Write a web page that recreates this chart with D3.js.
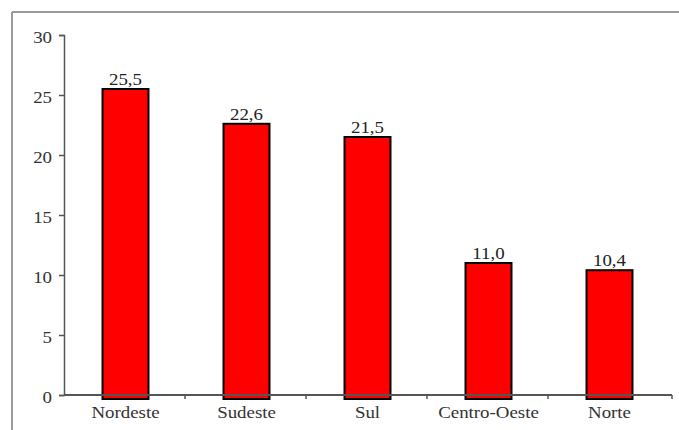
<!DOCTYPE html>
<html><head><meta charset="utf-8">
<script src="https://cdn.jsdelivr.net/npm/d3@7"></script>
<style>
html,body{margin:0;padding:0;background:#fff;}
</style></head>
<body>
<svg id="chart" width="679" height="430"></svg>
<script>
const categories = ["Nordeste","Sudeste","Sul","Centro-Oeste","Norte"];
const values = [25.5, 22.6, 21.5, 11.0, 10.4];
const yTicks = [0,5,10,15,20,25,30];

const FONT = "'Liberation Serif', 'Times New Roman', serif";
const SX = 1.18; // horizontal stretch of the original scan
const svg = d3.select("#chart");
const W = 679, H = 430;
const m = {left:64, top:35};
const plotRight = 669, plotBottom = 395;

// frame
svg.append("line").attr("x1",12).attr("y1",12).attr("x2",W).attr("y2",12)
  .attr("stroke","#9a9a9a").attr("stroke-width",2);
svg.append("line").attr("x1",12).attr("y1",12).attr("x2",12).attr("y2",H)
  .attr("stroke","#9a9a9a").attr("stroke-width",2);

const x = d3.scaleBand().domain(categories).range([m.left, plotRight]).paddingInner(0.62).paddingOuter(0.31);
const y = d3.scaleLinear().domain([0,30]).range([plotBottom, m.top]);

const fmt = v => v.toFixed(1).replace(".", ",");

// bars
svg.selectAll("rect.bar").data(categories).join("rect")
  .attr("class","bar")
  .attr("x", d => x(d) + 1)
  .attr("y", (d,i) => y(values[i]))
  .attr("width", x.bandwidth())
  .attr("height", (d,i) => y(0) - y(values[i]) + 4)
  .attr("fill","#ff0000").attr("stroke","#000").attr("stroke-width",2);

// value labels
svg.selectAll("g.val").data(categories).join("g")
  .attr("class","val")
  .attr("transform", (d,i) => `translate(${x(d) + 1 + x.bandwidth()/2},${y(values[i]) - 4})`)
  .append("text")
  .attr("transform",`scale(${SX},1)`)
  .attr("text-anchor","middle")
  .style("font-family",FONT).style("font-size","16px").attr("fill","#222")
  .text((d,i) => fmt(values[i]));

// y axis
const yAxis = svg.append("g").attr("transform",`translate(${m.left},0)`)
  .call(d3.axisLeft(y).tickValues(yTicks).tickSize(5).tickPadding(7).tickFormat(d3.format("d")));
yAxis.select(".domain").attr("stroke","#555").attr("stroke-width",1.5);
yAxis.selectAll(".tick line").attr("stroke","#555").attr("stroke-width",1.5);
yAxis.selectAll("text")
  .attr("x", -12 / SX).attr("dy","0.45em")
  .attr("transform",`scale(${SX},1)`)
  .style("font-family",FONT).style("font-size","16px").attr("fill","#333");

// x axis
const xAxis = svg.append("g").attr("transform",`translate(0,${plotBottom})`)
  .call(d3.axisBottom(x).tickSize(0).tickPadding(12));
xAxis.select(".domain").remove();
xAxis.append("line").attr("x1",m.left).attr("x2",plotRight+3).attr("y1",0).attr("y2",0)
  .attr("stroke","#555").attr("stroke-width",2);
xAxis.selectAll(".tick text").attr("transform",`translate(1,0) scale(${SX},1)`)
  .style("font-family",FONT).style("font-size","16px").attr("fill","#333");
const step = x.step();
const boundaries = categories.slice(1).map(c => x(c) - (step - x.bandwidth())/2);
boundaries.push(plotRight + 3);
xAxis.selectAll("line.bt").data(boundaries).join("line").attr("class","bt")
  .attr("x1", d=>d).attr("x2", d=>d).attr("y1",0).attr("y2",4)
  .attr("stroke","#555").attr("stroke-width",1.5);
</script>
</body></html>
